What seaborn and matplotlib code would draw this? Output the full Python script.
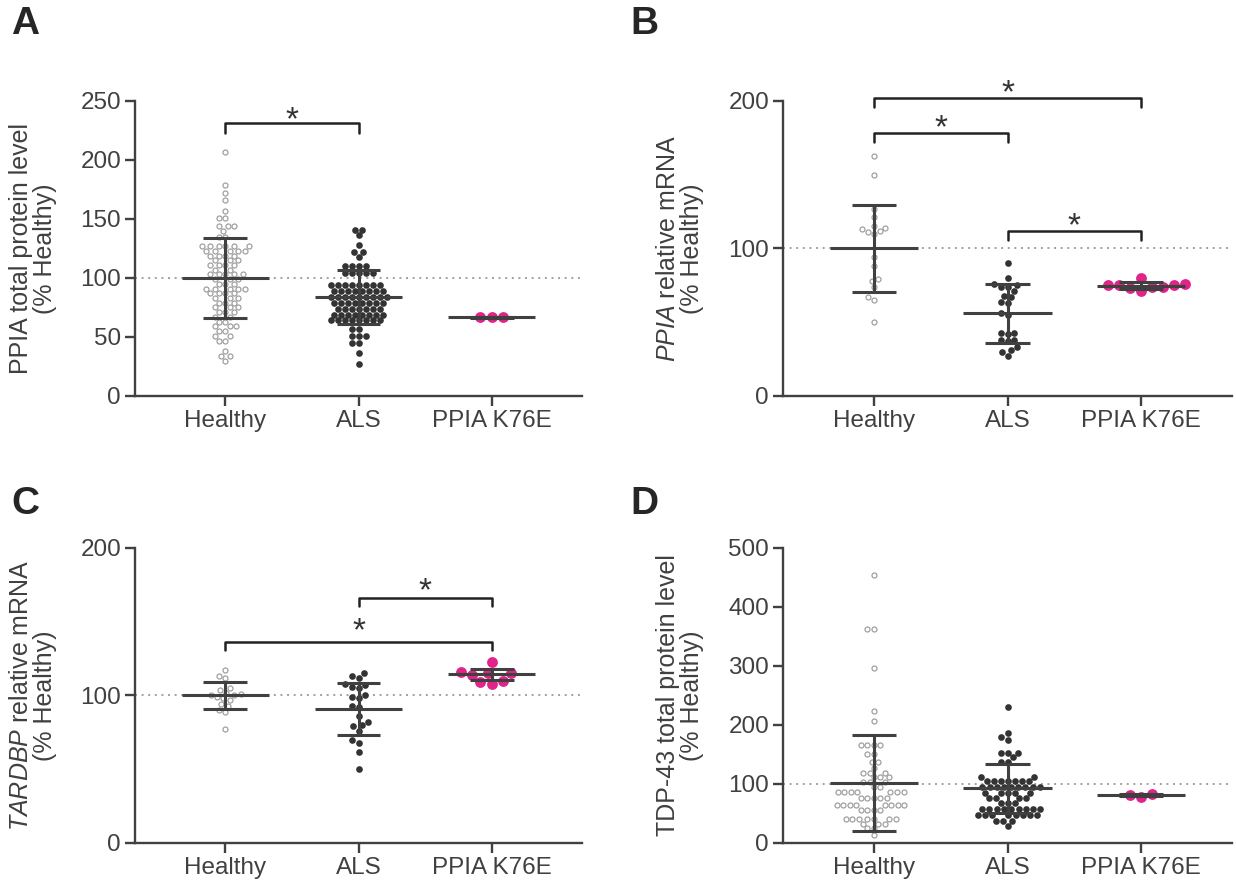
import matplotlib
matplotlib.use("Agg")
import matplotlib.pyplot as plt
import seaborn as sns
import pandas as pd

groups = ["Healthy", "ALS", "PPIA K76E"]

# A - PPIA total protein level (values read row by row off the swarm)
a_healthy = [207, 179, 172, 166, 157, 151, 151, 144, 144, 144, 140, 135, 135,
             127, 127, 127, 127, 127, 127,
             123, 123, 123, 123, 123,
             119, 119, 119, 119, 115, 115, 115,
             111, 111, 111, 111, 107, 107,
             103, 103, 103, 103, 103, 99, 99, 99, 95, 95, 95,
             91, 91, 91, 91, 91, 87, 87, 87, 87,
             83, 83, 83, 79, 79, 79, 75, 75, 75, 71, 71, 71,
             67, 67, 63, 63, 59, 59, 59, 55, 55, 51, 51, 47, 47,
             38, 34, 34, 30]
a_als = [141, 141, 136, 128, 122, 122, 118,
         110, 110, 110, 110, 104, 104, 104, 104, 104,
         94, 94, 94, 94, 94, 94, 94, 94,
         89, 89, 89, 89, 89, 89, 89, 89,
         84, 84, 84, 84, 84, 84, 84, 84, 84,
         79, 79, 79, 79, 79, 79, 79, 79,
         74, 74, 74, 74, 74, 74, 74,
         69, 69, 69, 69, 69, 69, 69, 69,
         64, 64, 64, 64, 64, 64, 64, 64,
         57, 57, 51, 51, 51, 45, 45, 36, 27]
a_k76e = [66.5, 66.5, 66.5]
a_mean = [100, 84, 66.5]
a_sd = [34, 23, 0.5]

# B - PPIA relative mRNA
b_healthy = [163, 150, 127, 121, 115, 114, 113, 112, 111, 110,
             94, 88, 79, 78, 74, 67, 65, 50]
b_als = [90, 80, 76, 75, 74, 74, 71, 68, 67, 64, 63, 56, 55,
         43, 43, 42, 38, 38, 37, 33, 31, 30, 27]
b_k76e = [80, 76, 75, 75, 75, 74, 74, 73, 71]
b_mean = [100, 56, 74.8]
b_sd = [29.7, 19.8, 2.6]

# C - TARDBP relative mRNA
c_healthy = [117, 113, 112, 105, 104, 102, 101, 100, 100, 99,
             98, 97, 94, 93, 90, 89, 77]
c_als = [115, 113, 112, 108, 107, 106, 105, 100, 99, 98, 93,
         92, 86, 82, 80, 79, 76, 70, 68, 62, 50]
c_k76e = [123, 116, 115, 115, 114, 110, 109, 108]
c_mean = [100, 91, 114.4]
c_sd = [9.3, 17.7, 3.8]

# D - TDP-43 total protein level
d_healthy = [455, 362, 362, 297, 223, 206, 166, 166, 166, 166,
             151, 151, 137, 137, 127, 119, 119, 119, 111, 111, 111,
             103, 103, 103, 95, 95,
             86, 86, 86, 86, 86, 86, 86, 77, 77, 77, 77, 77,
             64, 64, 64, 64, 64, 64, 64, 64, 56, 56, 56, 56,
             41, 41, 41, 41, 41, 41, 41, 33, 33, 33, 25, 25, 13]
d_als = [231, 187, 180, 175, 153, 153, 153, 145, 138, 138, 112, 112,
         105, 105, 105, 105, 105, 105, 105,
         95, 95, 95, 95, 95, 95, 95, 95, 95,
         85, 85, 85, 85, 85, 76, 76, 76, 76, 67, 67, 67,
         57, 57, 57, 57, 57, 57, 57, 57, 57,
         47, 47, 47, 47, 47, 47, 47, 47, 38, 38, 38, 29]
d_k76e = [83, 78, 81]
d_mean = [101, 92.7, 80.8]
d_sd = [81.4, 42, 2]

sns.set_style("ticks")
plt.rcParams["font.family"] = ["Liberation Sans", "DejaVu Sans"]
plt.rcParams["mathtext.fontset"] = "custom"
plt.rcParams["mathtext.rm"] = "Liberation Sans"
plt.rcParams["mathtext.it"] = "Liberation Sans:italic"

ink = "#404040"
styles = [dict(size=3.6, color="white", edgecolor="#a0a0a0", linewidth=0.9),
          dict(size=4.8, color="#333333", linewidth=0),
          dict(size=7.8, color="#e2238a", linewidth=0)]


def draw_panel(ax, values, mean, sd, ylabel, yticks, brackets):
    df = pd.concat([pd.DataFrame({"group": g, "value": v})
                    for g, v in zip(groups, values)])
    for g, st in zip(groups, styles):
        sns.swarmplot(data=df[df["group"] == g], x="group", y="value",
                      order=groups, ax=ax, zorder=2, warn_thresh=1, **st)
    ax.axhline(100, color="#a0a0a0", ls=(0, (1, 2.4)), lw=1.4, zorder=1)
    for i in range(len(groups)):
        lo, hi = mean[i] - sd[i], mean[i] + sd[i]
        ax.hlines(mean[i], i - 0.33, i + 0.33, color=ink, lw=2.2, zorder=3)
        ax.hlines([lo, hi], i - 0.165, i + 0.165, color=ink, lw=2.2, zorder=3)
        ax.vlines(i, lo, hi, color=ink, lw=2.2, zorder=3)
    for x0, x1, yb, drop, ystar in brackets:
        ax.plot([x0, x0, x1, x1], [yb - drop, yb, yb, yb - drop],
                color="#222222", lw=1.8, clip_on=False)
        ax.text((x0 + x1) / 2, ystar, "*", ha="center", va="center",
                fontsize=24, color="#333333", clip_on=False)
    ax.set_xlim(-0.68, 2.68)
    ax.set_ylim(yticks[0], yticks[-1])
    ax.set_yticks(yticks)
    ax.set_xlabel("")
    ax.set_ylabel(ylabel, fontsize=18, color=ink, linespacing=1.0)
    ax.yaxis.set_label_coords(-0.175, 0.5)
    sns.despine(ax=ax)
    for s in ["left", "bottom"]:
        ax.spines[s].set_color(ink)
        ax.spines[s].set_linewidth(1.7)
    ax.tick_params(length=7, width=1.7, color=ink, labelcolor=ink,
                   labelsize=17.5, pad=3)


fig = plt.figure(figsize=(12.36, 8.88), dpi=100)
ax_a = fig.add_axes([0.1092, 0.5541, 0.3617, 0.3322])
ax_b = fig.add_axes([0.6335, 0.5541, 0.3633, 0.3322])
ax_c = fig.add_axes([0.1092, 0.0507, 0.3617, 0.3322])
ax_d = fig.add_axes([0.6335, 0.0507, 0.3633, 0.3322])

draw_panel(ax_a, [a_healthy, a_als, a_k76e], a_mean, a_sd,
           "PPIA total protein level\n(% Healthy)",
           [0, 50, 100, 150, 200, 250],
           [(0, 1, 231, 8, 233)])
draw_panel(ax_b, [b_healthy, b_als, b_k76e], b_mean, b_sd,
           "$\\it{PPIA}$ relative mRNA\n(% Healthy)",
           [0, 100, 200],
           [(0, 2, 202, 6, 205), (0, 1, 178, 6, 181), (1, 2, 112, 6, 115)])
draw_panel(ax_c, [c_healthy, c_als, c_k76e], c_mean, c_sd,
           "$\\it{TARDBP}$ relative mRNA\n(% Healthy)",
           [0, 100, 200],
           [(1, 2, 166, 5, 170), (0, 2, 136, 5, 143)])
draw_panel(ax_d, [d_healthy, d_als, d_k76e], d_mean, d_sd,
           "TDP-43 total protein level\n(% Healthy)",
           [0, 100, 200, 300, 400, 500], [])

for x, y, letter in [(0.009, 0.993, "A"), (0.51, 0.993, "B"),
                     (0.009, 0.453, "C"), (0.51, 0.453, "D")]:
    fig.text(x, y, letter, fontsize=28, fontweight="bold", va="top", ha="left")

fig.savefig("out.png", dpi=100)
